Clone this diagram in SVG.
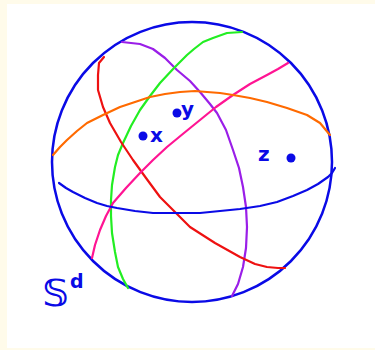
<svg xmlns="http://www.w3.org/2000/svg" width="375" height="350" viewBox="0 0 375 350">
<style>
.c{fill:none;stroke-width:2.2;stroke-linecap:round;stroke-linejoin:round}
.lbl{fill:#0a0ae6;font-family:"DejaVu Sans","Liberation Sans",sans-serif;font-weight:bold}
.dot{fill:#0a0ae6}
</style>
<rect x="0" y="0" width="375" height="350" fill="#fffbea"/>
<rect x="7" y="4" width="368" height="344" fill="#ffffff"/>
<g id="sphere">
<ellipse cx="192" cy="162" rx="140" ry="140" fill="none" stroke="#0a0ae6" stroke-width="2.5"/>
</g>
<g id="connectors">
<polyline class="c" stroke="#9a1ee8" points="122,42 140,44 153,49 165,58 177,70 190,81 200,92 210,104 217,113 226,130 233,150 239,168 243,187 246,207 247,227 246,248 243,267 238,284 232,296"/>
<polyline class="c" stroke="#22ee22" points="242,32 227,33 213,38 203,42 194,49 187,55 174,68 160,83 150,96 140,110 131,126 123,143 118,155 115,167 112,185 111,200 111,216 112,233 115,252 118,267 123,279 128,288"/>
<polyline class="c" stroke="#ee1111" points="104,57 99,63 98,75 98,90 103,107 110,123 121,142 133,160 146,178 160,197 175,212 190,227 215,243 240,257 255,264 267,267 278,268 285,268"/>
<polyline class="c" stroke="#ff1493" points="288,63 278,69 267,75 250,84 233,95 216,107 200,120 184,133 167,147 153,160 140,173 126,188 113,203 106,216 100,230 95,245 92,258"/>
<polyline class="c" stroke="#ff6a00" points="53,155 60,147 67,140 77,131 87,123 103,115 120,107 135,102 150,97 165,94 180,92 195,91 207,92 220,93 233,95 250,98 267,102 287,108 307,115 320,123 330,135"/>
<polyline class="c" stroke="#0a0ae6" points="59,183 66,188 73,192 85,198 97,203 107,206 117,208 135,211 153,213 177,213 200,213 220,211 240,209 260,206 277,202 293,196 307,190 318,184 328,177 332,173 335,168"/>
</g>
<g id="point-x">
<circle class="dot" cx="143" cy="136" r="4.5"/>
<text class="lbl" x="150" y="142" font-size="20">x</text>
</g>
<g id="point-y">
<circle class="dot" cx="177" cy="113" r="4.5"/>
<text class="lbl" x="181" y="116" font-size="20">y</text>
</g>
<g id="point-z">
<text class="lbl" x="258" y="161" font-size="20">z</text>
<circle class="dot" cx="291" cy="158" r="4.5"/>
</g>
<g id="label-sd">
<text class="lbl" x="42" y="306" font-size="38" font-weight="normal">𝕊</text>
<text class="lbl" x="70" y="288" font-size="19" font-weight="normal">d</text>
</g>
</svg>
